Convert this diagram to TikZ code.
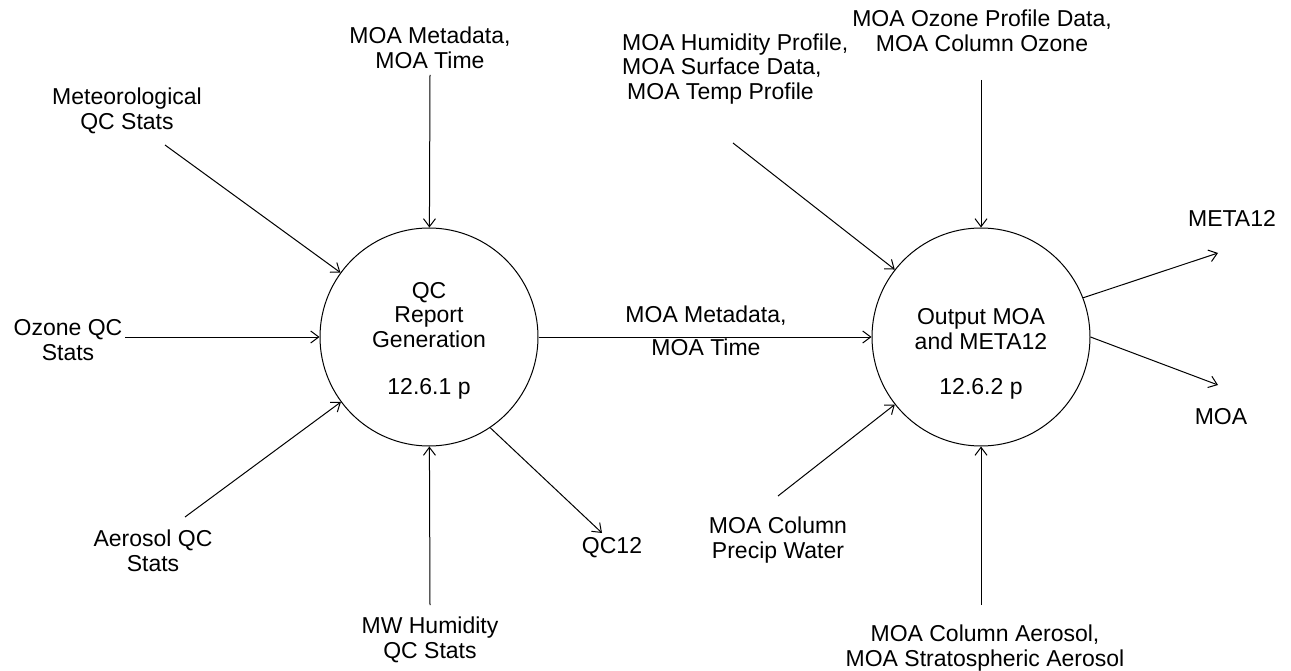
\documentclass[tikz,border=0pt]{standalone}
\usepackage{fontspec}
\setmainfont{Liberation Sans}
\usetikzlibrary{arrows.meta}
\begin{document}
\begin{tikzpicture}[x=1pt,y=-1pt,
  proc/.style={circle,draw,line width=1pt,minimum size=218pt,inner sep=0pt},
  lbl/.style={align=center,inner sep=0pt,font=\fontsize{23}{24.5}\selectfont},
  flow/.style={-{Straight Barb[length=8pt,width=12pt]},line width=1pt}]
\useasboundingbox (0,0) rectangle (1291,671);

% processes
\node[proc] (c1) at (429,337) {};
\node[proc] (c2) at (981,337) {};
\node[lbl] (c1t) at (429,315) {QC\\Report\\Generation};
\node[lbl] (c1n) at (429,389) {12.6.1 p};
\node[lbl] (c2t) at (981,329) {Output MOA\\and META12};
\node[lbl] (c2n) at (981,389) {12.6.2 p};

% data flow labels
\node[lbl] (t1) at (430,48) {MOA Metadata,\\MOA Time};
\node[lbl] (t2) at (127,111) {Meteorological\\QC Stats};
\node[lbl] (t3) at (68,340) {Ozone QC\\Stats};
\node[lbl] (t4) at (153,551) {Aerosol QC\\Stats};
\node[lbl] (t5) at (612,548) {QC12};
\node[lbl] (t6) at (430,640) {MW Humidity\\QC Stats};
\node[lbl] (t7) at (706,331) {MOA Metadata,\\[9pt]MOA Time};
\node[lbl,align=left,anchor=west] (t8) at (622,69) {MOA Humidity Profile,\\MOA Surface Data,\\\hspace*{5pt}MOA Temp Profile};
\node[lbl] (t9) at (982,31) {MOA Ozone Profile Data,\\MOA Column Ozone};
\node[lbl] (t10) at (778,540) {MOA Column\\Precip Water};
\node[lbl] (t11) at (985,648) {MOA Column Aerosol,\\MOA Stratospheric Aerosol};
\node[lbl] (t12) at (1232,218) {META12};
\node[lbl] (t13) at (1221,417) {MOA};

% free ends of the flows
\coordinate (a1) at (165,145);
\coordinate (a2) at (430,75);
\coordinate (a3) at (125,337);
\coordinate (a4) at (185,517);
\coordinate (a5) at (430,605);
\coordinate (q12) at (602,533);
\coordinate (a8) at (733,143);
\coordinate (a9) at (981,80);
\coordinate (a10) at (778,496);
\coordinate (a11) at (981,605);
\coordinate (m12) at (1218,253);
\coordinate (moa) at (1218,385);

% flows
\draw[flow] (a1) -- (c1);
\draw[flow] (a2) -- (c1);
\draw[flow] (a3) -- (c1);
\draw[flow] (a4) -- (c1);
\draw[flow] (a5) -- (c1);
\draw[flow] (c1.-56) -- (q12);
\draw[flow] (c1) -- (c2);
\draw[flow] (a8) -- (c2);
\draw[flow] (a9) -- (c2);
\draw[flow] (a10) -- (c2);
\draw[flow] (a11) -- (c2);
\draw[flow] (c2.21) -- (m12);
\draw[flow] (c2.east) -- (moa);
\end{tikzpicture}
\end{document}
